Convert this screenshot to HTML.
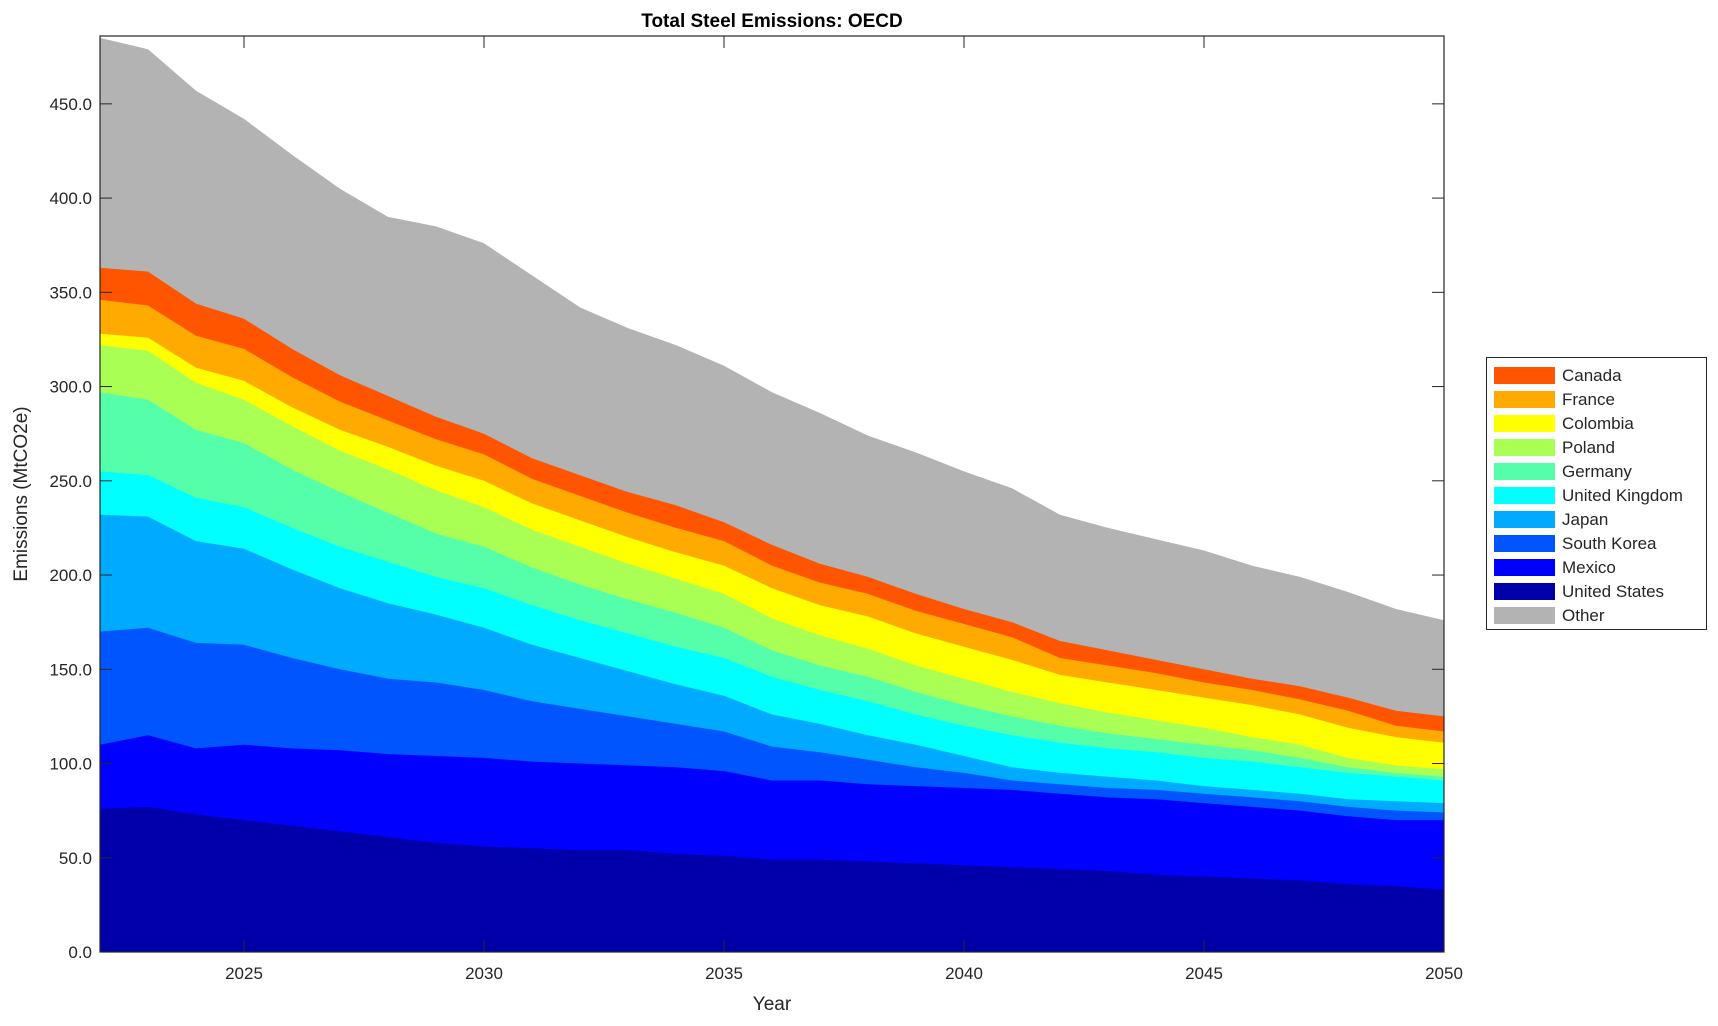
<!DOCTYPE html>
<html><head><meta charset="utf-8"><style>
body{margin:0;background:#fff;}
svg text{font-family:"Liberation Sans",Arial,sans-serif;fill:#262626;}
</style></head><body>
<svg id="s" width="1718" height="1021" xmlns="http://www.w3.org/2000/svg">
<rect width="1718" height="1021" fill="#fff"/>
<g id="areas"></g>
<g id="axes"></g>
<text x="772" y="27" font-size="19" font-weight="bold" text-anchor="middle" style="fill:#000">Total Steel Emissions: OECD</text>
<text x="772" y="1010" font-size="19" text-anchor="middle">Year</text>
<text transform="translate(27,494) rotate(-90)" font-size="19" text-anchor="middle">Emissions (MtCO2e)</text>
<rect x="1486.5" y="357.5" width="220" height="272" fill="#fff" stroke="#262626" stroke-width="1"/>
<g id="leg"></g>
</svg>
<script>
const L=100,R=1444,T=36,B=952,YMAX=486;
const X=y=>L+(y-2022)*(R-L)/28, Y=v=>B-v*(B-T)/YMAX;
const tops=[
[76,77,73,70,67,64,61,58,56,55,54,54,52,51,49,49,48,47,46,45,44,43,41,40,39,38,36,35,33],
[110,115,108,110,108,107,105,104,103,101,100,99,98,96,91,91,89,88,87,86,84,82,81,79,77,75,72,70,70],
[170,172,164,163,156,150,145,143,139,133,129,125,121,117,109,106,102,98,95,91,89,87,86,84,82,80,77,75,74],
[232,231,218,214,203,193,185,179,172,163,156,149,142,136,126,121,115,110,104,98,95,93,91,88,86,84,81,80,79],
[255,253,241,236,225,215,207,199,193,184,176,169,162,156,146,139,133,126,120,115,111,108,106,103,101,98,95,93,91],
[297,293,277,270,256,244,233,222,215,204,195,187,180,172,160,152,146,138,131,125,120,116,113,110,107,103,98,95,93],
[322,319,302,293,279,266,256,245,236,224,215,206,198,190,177,168,161,152,145,138,132,127,123,119,114,110,103,99,97],
[328,326,310,303,289,277,268,258,250,238,229,220,212,205,193,184,178,169,162,155,147,143,139,135,131,126,119,114,111],
[346,343,327,320,305,292,282,272,264,251,242,233,225,218,205,196,190,181,174,167,156,152,148,143,139,134,128,120,117],
[363,361,344,336,320,306,295,284,275,262,253,244,237,228,216,206,199,190,182,175,165,160,155,150,145,141,135,128,125],
[485,479,457,442,423,405,390,385,376,359,342,331,322,311,297,286,274,265,255,246,232,225,219,213,205,199,191,182,176]];
const cols=["#0000AA","#0000FF","#0055FF","#00AAFF","#00FFFF","#55FFAA","#AAFF55","#FFFF00","#FFAA00","#FF5500","#B3B3B3"];
const names=["United States","Mexico","South Korea","Japan","United Kingdom","Germany","Poland","Colombia","France","Canada","Other"];
let a="";
for(let k=10;k>=0;k--){
 let p=tops[k].map((v,i)=>X(2022+i).toFixed(1)+","+Y(v).toFixed(1));
 p.push(R+","+B,L+","+B);
 a+=`<polygon points="${p.join(" ")}" fill="${cols[k]}"/>`;
}
document.getElementById("areas").innerHTML=a;
let ax=`<rect x="${L}" y="${T}" width="${R-L}" height="${B-T}" fill="none" stroke="#262626" stroke-width="1.2"/>`;
for(let v=0;v<=450;v+=50){let y=Y(v);
 ax+=`<line x1="${L}" x2="${L+12}" y1="${y}" y2="${y}" stroke="#262626"/><line x1="${R-12}" x2="${R}" y1="${y}" y2="${y}" stroke="#262626"/>`;
 ax+=`<text x="${L-8}" y="${y+6}" font-size="17" text-anchor="end">${v.toFixed(1)}</text>`;}
for(let yr=2025;yr<=2050;yr+=5){let x=X(yr);
 ax+=`<line x1="${x}" x2="${x}" y1="${B}" y2="${B-12}" stroke="#262626"/><line x1="${x}" x2="${x}" y1="${T}" y2="${T+12}" stroke="#262626"/>`;
 ax+=`<text x="${x}" y="${B+27}" font-size="17" text-anchor="middle">${yr}</text>`;}
document.getElementById("axes").innerHTML=ax;
const order=[9,8,7,6,5,4,3,2,1,0,10];let lg="";
order.forEach((k,i)=>{let y=375+i*24;
 lg+=`<rect x="1494" y="${y-8}" width="61" height="17" fill="${cols[k]}"/><text x="1562" y="${y+6}" font-size="17">${names[k]}</text>`;});
document.getElementById("leg").innerHTML=lg;
</script>
</body></html>
